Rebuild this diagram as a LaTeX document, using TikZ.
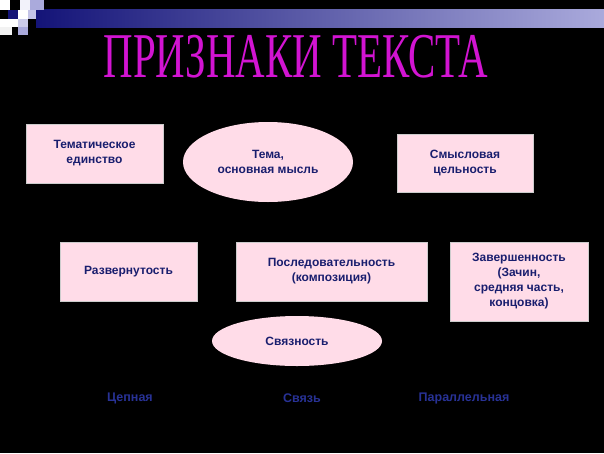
\documentclass[tikz,border=0pt]{standalone}
\usepackage{fontspec}
\setmainfont{Liberation Sans}
\newfontfamily\titlefont{Liberation Serif}
\usetikzlibrary{shapes.geometric}
\definecolor{pinkbox}{RGB}{255,220,232}
\definecolor{navytext}{RGB}{25,30,110}
\definecolor{lbltext}{RGB}{40,50,150}
\definecolor{barnavy}{RGB}{20,20,120}
\definecolor{barlight}{RGB}{170,170,220}
\definecolor{titlemag}{RGB}{210,20,210}
\begin{document}
\begin{tikzpicture}[x=1pt,y=-1pt,
  box/.style={draw=gray!40,fill=pinkbox,minimum width=#1,align=center,font=\bfseries\fontsize{12}{15}\selectfont,text=navytext},
  oval/.style={ellipse,fill=pinkbox,align=center,font=\bfseries\fontsize{12}{15}\selectfont,text=navytext},
  lbl/.style={font=\bfseries\fontsize{12.5}{14}\selectfont,text=lbltext}]
\fill[black] (0,0) rectangle (604,453);
\useasboundingbox (0,0) rectangle (604,453);
% top bar
\shade[left color=barnavy,right color=barlight] (36,9) rectangle (604,27);
% checker squares
\fill[white] (0,0) rectangle (10,10);
\fill[white!85!barlight] (20,0) rectangle (30,10);
\fill[barlight] (30,0) rectangle (44,10);
\fill[barnavy] (8,10) rectangle (18,19);
\fill[white] (18,10) rectangle (28,19);
\fill[barlight!70] (28,10) rectangle (36,19);
\fill[white] (0,19) rectangle (18,27);
\fill[barlight!60] (18,19) rectangle (28,27);
\fill[barlight] (18,27) rectangle (28,35);
\fill[white!90!gray] (0,27) rectangle (12,35);
% title
\node[font=\titlefont\fontsize{44}{44}\selectfont,text=titlemag,xscale=0.93,yscale=1.45] (title) at (296,57) {ПРИЗНАКИ ТЕКСТА};
% nodes
\node[box=137pt,minimum height=59pt] (them) at (94.5,153.5) {Тематическое\\единство};
\node[oval,minimum width=170pt,minimum height=80pt] (tema) at (268,162) {Тема,\\основная мысль};
\node[box=136pt,minimum height=58pt] (smysl) at (465,163) {Смысловая\\цельность};
\node[box=137pt,minimum height=59pt] (razv) at (128.5,271.5) {Развернутость};
\node[box=191pt,minimum height=59pt] (posl) at (331.5,271.5) {Последовательность\\(композиция)};
\node[box=138pt,minimum height=79pt] (zav) at (519,281.5) {Завершенность\\(Зачин,\\средняя часть,\\концовка)};
\node[oval,minimum width=170pt,minimum height=50pt] (svyaz) at (297,341) {Связность};
\node[lbl] (cep) at (130,398) {Цепная};
\node[lbl] (sv) at (302,398) {Связь};
\node[lbl] (par) at (464,398) {Параллельная};
\end{tikzpicture}
\end{document}
